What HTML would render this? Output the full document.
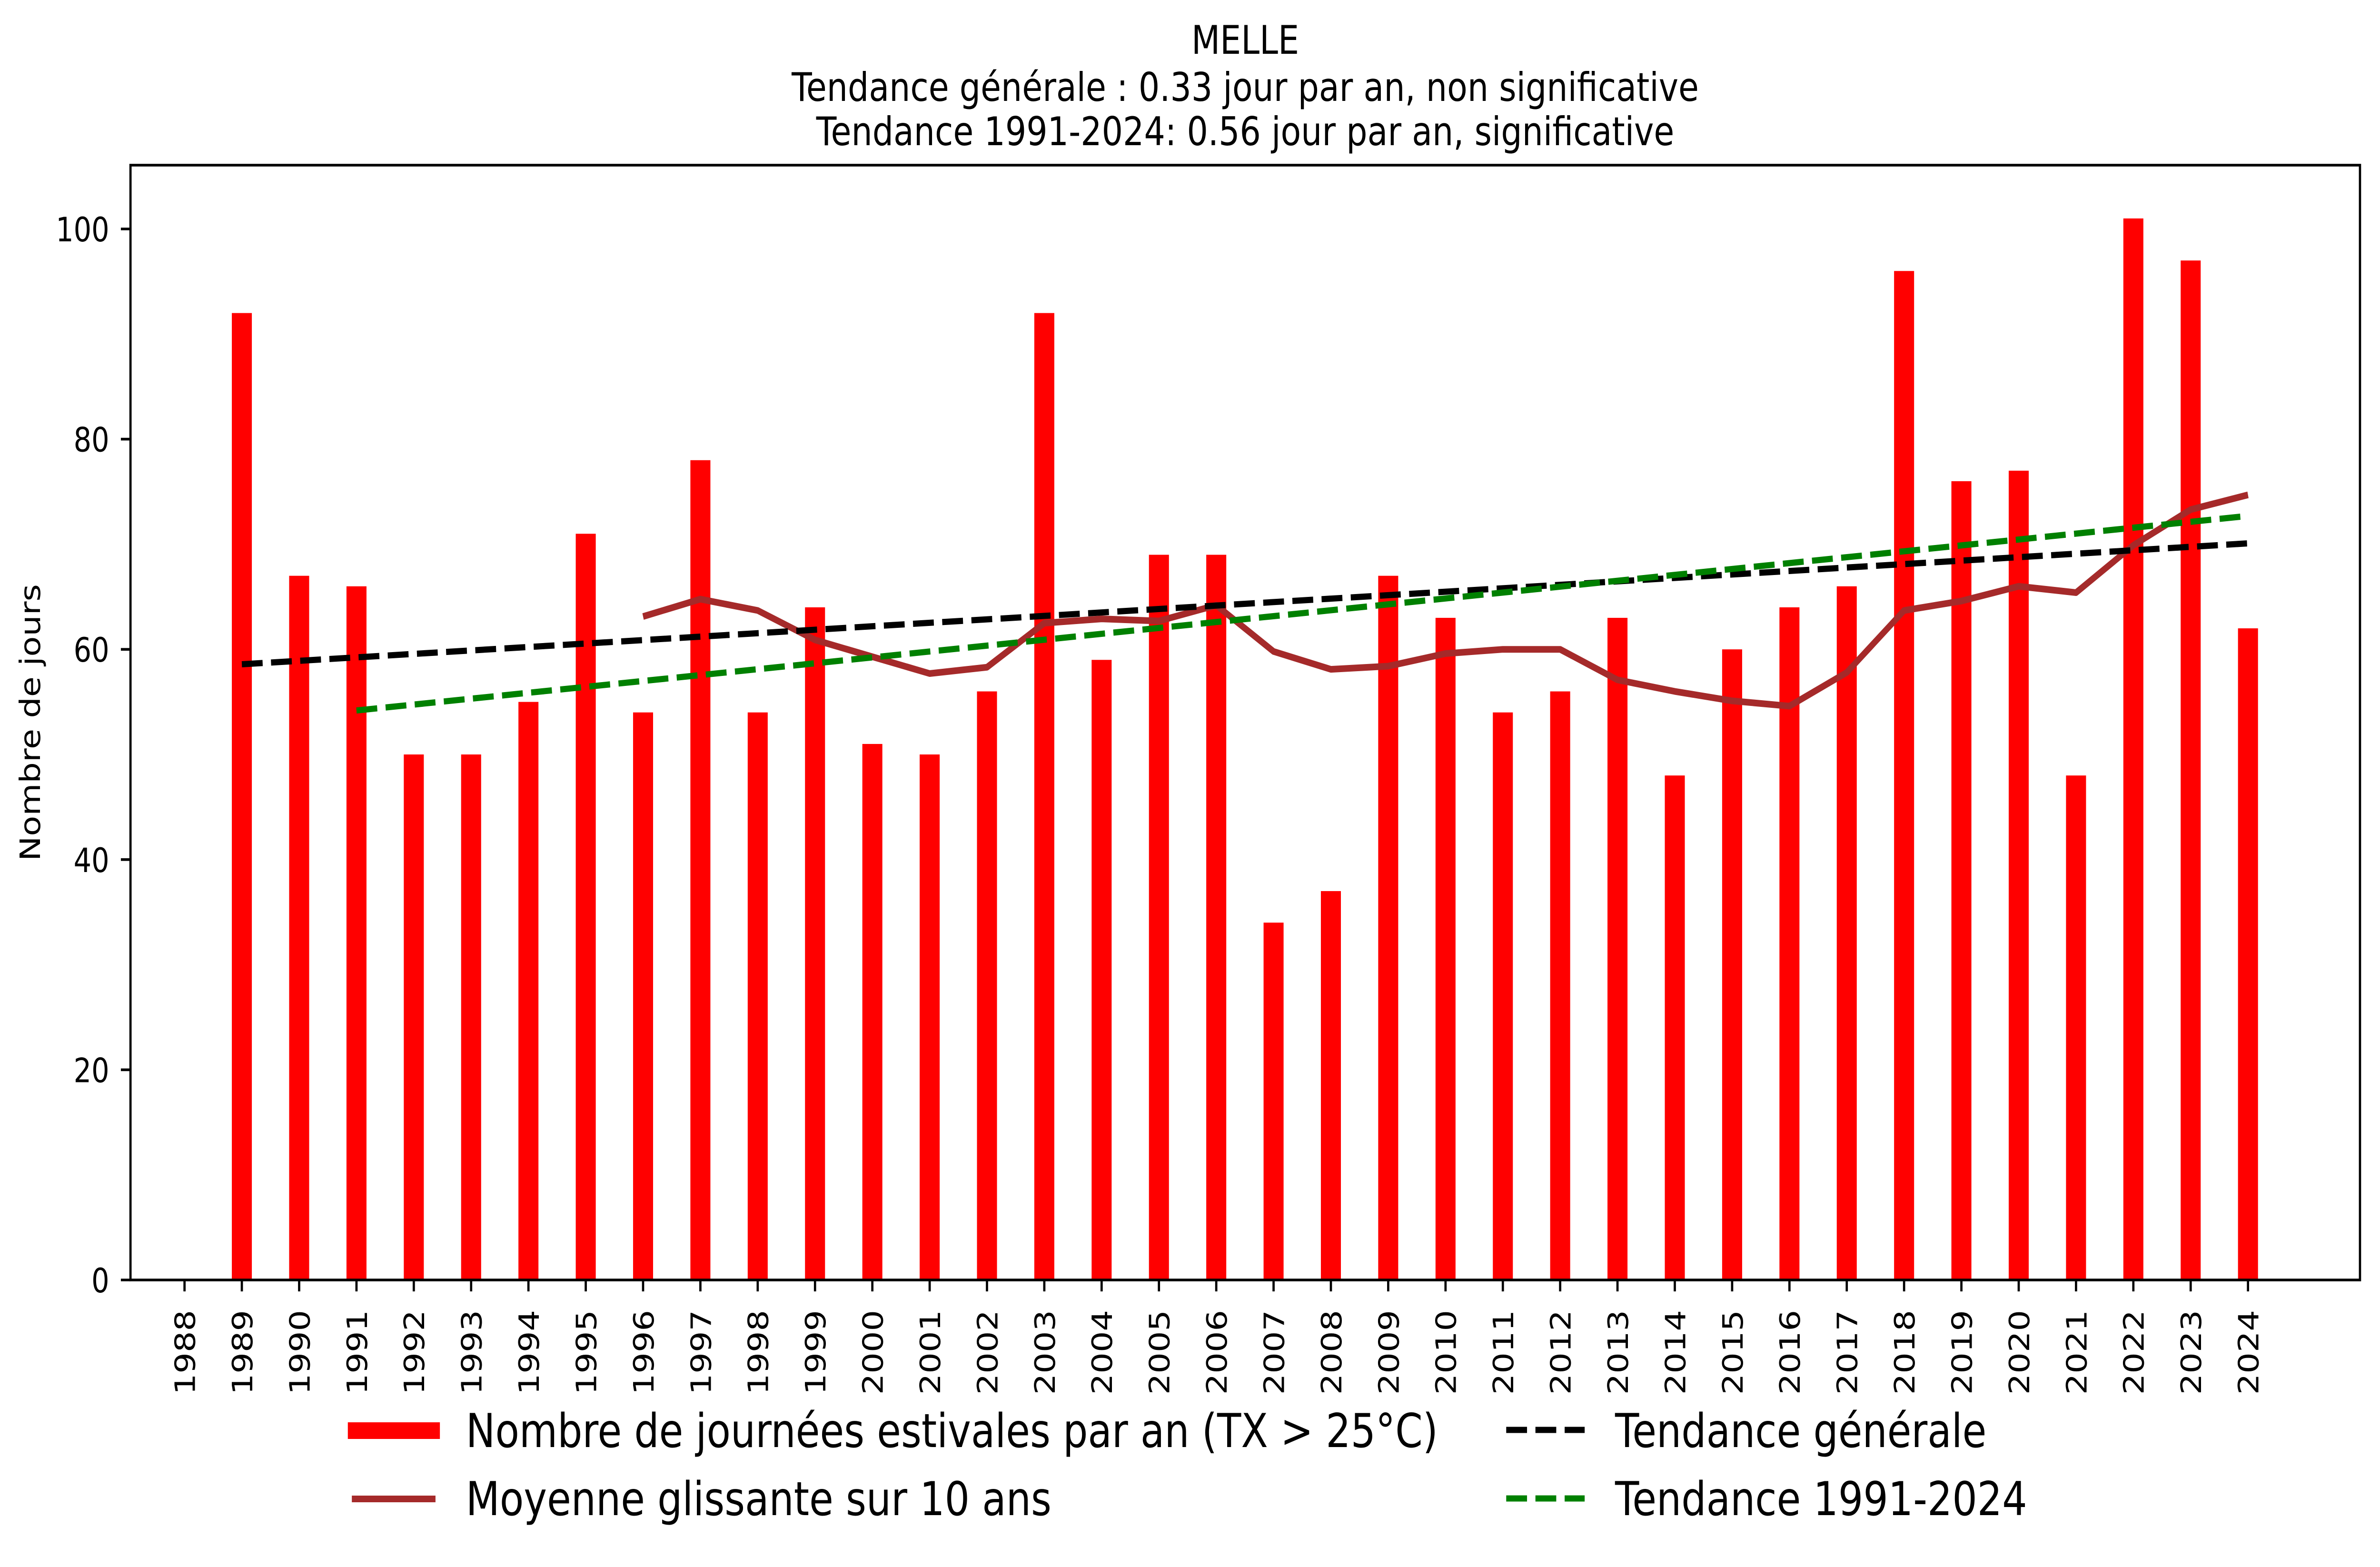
<!DOCTYPE html>
<html><head><meta charset="utf-8">
<style>
html,body{margin:0;padding:0;background:#fff;width:100%;height:100%;overflow:hidden;}
svg{display:block;width:100vw;height:100vh;}
text{font-family:"DejaVu Sans","Liberation Sans",sans-serif;fill:#000;}
</style></head><body>
<svg id="s" xmlns="http://www.w3.org/2000/svg" viewBox="0 0 5946 3292" preserveAspectRatio="none">
<rect width="5946" height="3292" fill="#fff"/>
<g id="bars"></g>
<g id="lines"></g>
<rect x="326" y="347" width="5570" height="2342" fill="none" stroke="#000" stroke-width="5.6"/>
<g id="ticks"></g>
<text x="3111" y="113" font-size="83" text-anchor="middle">MELLE</text>
<text x="3111" y="212" font-size="83" text-anchor="middle">Tendance générale : 0.33 jour par an, non significative</text>
<text x="3111" y="305" font-size="83" text-anchor="middle">Tendance 1991-2024: 0.56 jour par an, significative</text>
<text transform="translate(100,1518) rotate(-90)" font-size="70" text-anchor="middle">Nombre de jours</text>
<rect x="869" y="2988" width="230" height="35" fill="#ff0000"/>
<text x="1164" y="3040" font-size="98">Nombre de journées estivales par an (TX &gt; 25°C)</text>
<line x1="879" y1="3149" x2="1088" y2="3149" stroke="#a52a2a" stroke-width="14"/>
<text x="1164" y="3183" font-size="98">Moyenne glissante sur 10 ans</text>
<line x1="3763" y1="3004" x2="3959" y2="3004" stroke="#000" stroke-width="13" stroke-dasharray="52 21"/>
<text x="4035" y="3040" font-size="98">Tendance générale</text>
<line x1="3763" y1="3148" x2="3959" y2="3148" stroke="#008000" stroke-width="13" stroke-dasharray="52 21"/>
<text x="4035" y="3183" font-size="98">Tendance 1991-2024</text>
</svg>
<script>
var NS="http://www.w3.org/2000/svg";
var vals={1989:92,1990:67,1991:66,1992:50,1993:50,1994:55,1995:71,1996:54,1997:78,1998:54,1999:64,2000:51,2001:50,2002:56,2003:92,2004:59,2005:69,2006:69,2007:34,2008:37,2009:67,2010:63,2011:54,2012:56,2013:63,2014:48,2015:60,2016:64,2017:66,2018:96,2019:76,2020:77,2021:48,2022:101,2023:97,2024:62};
function X(y){return 461+(y-1988)*143.2;}
function Y(v){return 2689-v*22.08;}
function el(t,a,p){var e=document.createElementNS(NS,t);for(var k in a)e.setAttribute(k,a[k]);document.getElementById(p).appendChild(e);return e;}
for(var y=1989;y<=2024;y++){var v=vals[y];el("rect",{x:X(y)-25,y:Y(v),width:50,height:v*22.08,fill:"#ff0000"},"bars");}
var pts=[];
for(var y=1996;y<=2024;y++){var s=0,n=0;for(var k=y-9;k<=y;k++){if(vals[k]!==undefined){s+=vals[k];n++;}}pts.push(X(y)+","+Y(s/n));}
el("polyline",{points:pts.join(" "),fill:"none",stroke:"#a52a2a","stroke-width":14,"stroke-linejoin":"round"},"lines");
function reg(a,b){var n=0,sx=0,sy=0,sxx=0,sxy=0;for(var y=a;y<=b;y++){n++;sx+=y;sy+=vals[y];sxx+=y*y;sxy+=y*vals[y];}var m=(n*sxy-sx*sy)/(n*sxx-sx*sx);var c=(sy-m*sx)/n;return [m,c];}
var r=reg(1989,2024);
el("line",{x1:X(1989),y1:Y(r[0]*1989+r[1]),x2:X(2024),y2:Y(r[0]*2024+r[1]),stroke:"#000","stroke-width":13,"stroke-dasharray":"52 21"},"lines");
var g=reg(1991,2024);
el("line",{x1:X(1991),y1:Y(g[0]*1991+g[1]),x2:X(2024),y2:Y(g[0]*2024+g[1]),stroke:"#008000","stroke-width":13,"stroke-dasharray":"52 21"},"lines");
for(var v=0;v<=100;v+=20){var yy=Y(v);el("line",{x1:302,y1:yy,x2:326,y2:yy,stroke:"#000","stroke-width":5.6},"ticks");var t=el("text",{x:273,y:yy+26,"font-size":70,"text-anchor":"end"},"ticks");t.textContent=v;}
for(var y=1988;y<=2024;y++){var xx=X(y);el("line",{x1:xx,y1:2689,x2:xx,y2:2713,stroke:"#000","stroke-width":5.6},"ticks");var t=el("text",{transform:"translate("+(xx+26)+",2752) rotate(-90)","font-size":70,"text-anchor":"end"},"ticks");t.textContent=y;}
</script>
</body></html>
